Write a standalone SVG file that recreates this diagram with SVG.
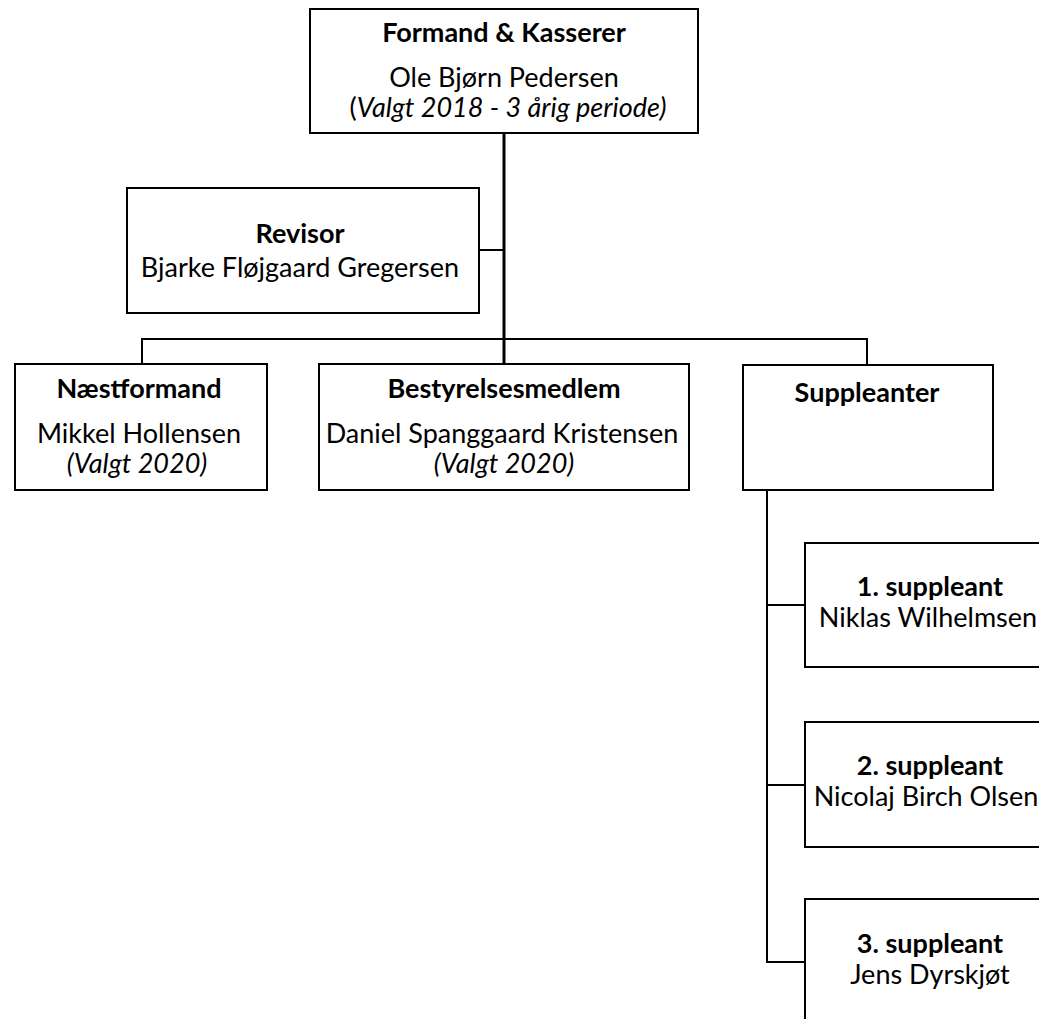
<svg xmlns="http://www.w3.org/2000/svg" width="1039" height="1019" viewBox="0 0 1039 1019">
<style>
.box{fill:#fff;stroke:#000;stroke-width:2}
.ln{fill:none;stroke:#000;stroke-width:2}
text{font-family:Lato,"Open Sans","Liberation Sans",sans-serif;font-size:27px;fill:#000;text-anchor:middle}
.b{font-weight:bold}
.i{font-style:italic}
</style>
<rect width="1039" height="1019" fill="#fff"/>
<g id="connectors">
<line class="ln" x1="504" y1="133" x2="504" y2="364" style="stroke-width:3"/>
<line class="ln" x1="479" y1="250" x2="504" y2="250"/>
<polyline class="ln" points="142,364 142,339 867,339 867,365"/>
<polyline class="ln" points="767,490 767,962 805,962"/>
<line class="ln" x1="767" y1="605" x2="805" y2="605"/>
<line class="ln" x1="767" y1="785" x2="805" y2="785"/>
</g>
<g id="formand">
<rect class="box" x="310" y="9" width="388" height="124"/>
<text x="504" y="42" class="b">Formand &amp; Kasserer</text>
<text x="504" y="87">Ole Bjørn Pedersen</text>
<text x="508" y="117">(<tspan class="i">Valgt 2018 - 3 årig periode)</tspan></text>
</g>
<g id="revisor">
<rect class="box" x="127" y="188" width="352" height="125"/>
<text x="300" y="243" class="b">Revisor</text>
<text x="300" y="277">Bjarke Fløjgaard Gregersen</text>
</g>
<g id="naestformand">
<rect class="box" x="15" y="364" width="252" height="126"/>
<text x="139" y="398" class="b">Næstformand</text>
<text x="139" y="443">Mikkel Hollensen</text>
<text x="137" y="473" class="i">(Valgt 2020)</text>
</g>
<g id="bestyrelsesmedlem">
<rect class="box" x="319" y="364" width="370" height="126"/>
<text x="504" y="398" class="b">Bestyrelsesmedlem</text>
<text x="502" y="443">Daniel Spanggaard Kristensen</text>
<text x="504" y="473" class="i">(Valgt 2020)</text>
</g>
<g id="suppleanter">
<rect class="box" x="743" y="365" width="250" height="125"/>
<text x="867" y="402" class="b">Suppleanter</text>
</g>
<g id="suppleant1">
<rect class="box" x="805" y="543" width="260" height="124"/>
<text x="930" y="596" class="b">1. suppleant</text>
<text x="928" y="627">Niklas Wilhelmsen</text>
</g>
<g id="suppleant2">
<rect class="box" x="805" y="722" width="260" height="125"/>
<text x="930" y="775" class="b">2. suppleant</text>
<text x="926" y="806">Nicolaj Birch Olsen</text>
</g>
<g id="suppleant3">
<rect class="box" x="805" y="899" width="260" height="130"/>
<text x="930" y="953" class="b">3. suppleant</text>
<text x="930" y="984">Jens Dyrskjøt</text>
</g>
</svg>
